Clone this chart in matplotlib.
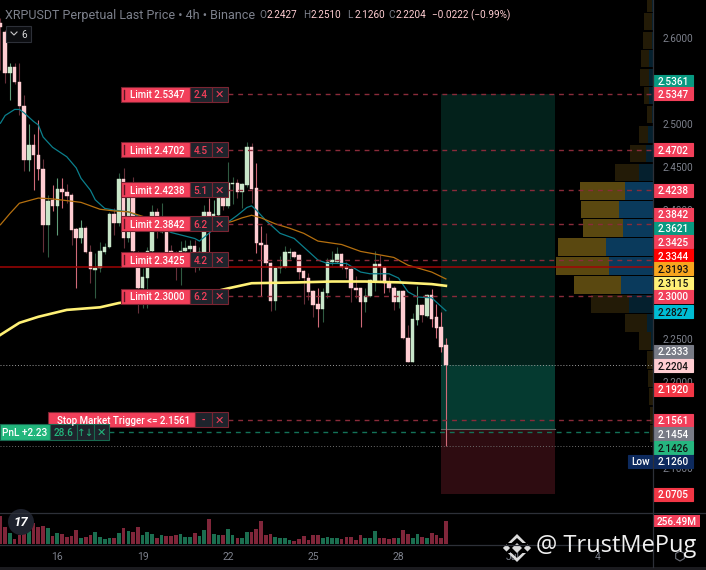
import matplotlib
matplotlib.use('Agg')
import matplotlib.pyplot as plt
import numpy as np
from matplotlib.patches import Rectangle, Circle, Polygon, RegularPolygon
from matplotlib.transforms import blended_transform_factory, IdentityTransform

plt.rcParams['font.family'] = ['Roboto', 'DejaVu Sans']

W, H = 706, 570

opens = [2.617, 2.607, 2.559, 2.566, 2.549, 2.521, 2.458, 2.476, 2.464, 2.448,
         2.383, 2.412, 2.405, 2.424, 2.421, 2.417, 2.378, 2.367, 2.379, 2.351,
         2.330, 2.333, 2.351, 2.357, 2.395, 2.385, 2.436, 2.367, 2.414, 2.344,
         2.309, 2.321, 2.353, 2.398, 2.374, 2.374, 2.353, 2.346, 2.351, 2.353,
         2.355, 2.358, 2.344, 2.344, 2.398, 2.392, 2.394, 2.414, 2.405, 2.430,
         2.431, 2.421, 2.429, 2.473, 2.426, 2.362, 2.360, 2.338, 2.294, 2.333,
         2.334, 2.350, 2.351, 2.348, 2.329, 2.321, 2.306, 2.291, 2.285, 2.304,
         2.340, 2.340, 2.349, 2.334, 2.331, 2.310, 2.309, 2.293, 2.300, 2.317,
         2.337, 2.334, 2.316, 2.310, 2.293, 2.306, 2.251, 2.224, 2.272, 2.290,
         2.277, 2.301, 2.276, 2.264, 2.2427]
highs = [2.623, 2.609, 2.571, 2.571, 2.571, 2.534, 2.500, 2.488, 2.505, 2.459,
         2.417, 2.429, 2.437, 2.437, 2.430, 2.420, 2.379, 2.388, 2.381, 2.359,
         2.350, 2.363, 2.362, 2.398, 2.403, 2.443, 2.449, 2.423, 2.439, 2.353,
         2.333, 2.357, 2.406, 2.402, 2.408, 2.383, 2.360, 2.353, 2.364, 2.365,
         2.365, 2.365, 2.357, 2.406, 2.414, 2.412, 2.426, 2.423, 2.456, 2.438,
         2.436, 2.432, 2.479, 2.478, 2.455, 2.381, 2.373, 2.340, 2.334, 2.347,
         2.358, 2.356, 2.353, 2.349, 2.330, 2.327, 2.307, 2.309, 2.310, 2.344,
         2.352, 2.357, 2.350, 2.340, 2.333, 2.323, 2.310, 2.309, 2.320, 2.353,
         2.348, 2.335, 2.322, 2.312, 2.307, 2.307, 2.266, 2.280, 2.312, 2.291,
         2.303, 2.308, 2.291, 2.281, 2.2510]
lows = [2.563, 2.548, 2.528, 2.546, 2.510, 2.446, 2.445, 2.423, 2.435, 2.351,
        2.345, 2.399, 2.371, 2.403, 2.408, 2.359, 2.310, 2.362, 2.350, 2.315,
        2.298, 2.328, 2.349, 2.356, 2.371, 2.381, 2.356, 2.363, 2.351, 2.280,
        2.286, 2.286, 2.336, 2.367, 2.373, 2.340, 2.340, 2.319, 2.313, 2.340,
        2.348, 2.328, 2.330, 2.340, 2.351, 2.383, 2.393, 2.400, 2.403, 2.407,
        2.414, 2.403, 2.427, 2.408, 2.350, 2.300, 2.336, 2.283, 2.284, 2.327,
        2.333, 2.343, 2.344, 2.320, 2.291, 2.295, 2.276, 2.264, 2.270, 2.298,
        2.336, 2.338, 2.331, 2.321, 2.293, 2.298, 2.264, 2.281, 2.299, 2.306,
        2.317, 2.304, 2.305, 2.284, 2.286, 2.250, 2.223, 2.223, 2.266, 2.270,
        2.276, 2.264, 2.251, 2.235, 2.1260]
closes = [2.613, 2.559, 2.566, 2.549, 2.521, 2.458, 2.476, 2.464, 2.448, 2.383,
          2.410, 2.405, 2.424, 2.421, 2.416, 2.377, 2.367, 2.379, 2.351, 2.331,
          2.333, 2.352, 2.357, 2.395, 2.385, 2.436, 2.367, 2.414, 2.353, 2.309,
          2.322, 2.353, 2.398, 2.383, 2.383, 2.351, 2.346, 2.337, 2.353, 2.356,
          2.358, 2.351, 2.351, 2.398, 2.392, 2.396, 2.414, 2.405, 2.431, 2.431,
          2.421, 2.430, 2.473, 2.424, 2.362, 2.359, 2.338, 2.294, 2.333, 2.334,
          2.351, 2.351, 2.346, 2.328, 2.321, 2.305, 2.290, 2.285, 2.305, 2.340,
          2.342, 2.349, 2.334, 2.331, 2.309, 2.307, 2.293, 2.300, 2.319, 2.337,
          2.334, 2.315, 2.310, 2.293, 2.306, 2.251, 2.224, 2.273, 2.290, 2.278,
          2.301, 2.274, 2.263, 2.241, 2.2204]
volumes = [312, 190, 123, 56, 100, 123, 145, 234, 190, 201,
           178, 89, 123, 112, 78, 89, 156, 67, 78, 100,
           134, 78, 56, 67, 67, 123, 178, 145, 134, 190,
           100, 134, 112, 67, 100, 89, 89, 100, 112, 78,
           78, 123, 89, 156, 279, 112, 100, 100, 167, 100,
           67, 67, 134, 134, 167, 256, 100, 112, 78, 67,
           67, 45, 33, 56, 89, 45, 100, 100, 67, 78,
           67, 67, 56, 78, 78, 45, 100, 67, 67, 145,
           67, 67, 56, 67, 67, 156, 112, 67, 112, 78,
           67, 123, 100, 67, 256.49]
bright_wicks = [2, 6, 7, 8, 11, 12, 13, 16, 17, 44, 45, 54, 55, 67, 76, 81, 88, 91, 92, 93, 94]

teal_idx = [0, 1, 3, 4, 5, 7, 8, 9, 11, 14, 16, 17, 19, 20, 22, 24, 27, 30, 36, 41, 42, 44, 47, 48,
            50, 52, 53, 54, 56, 59, 62, 64, 67, 69, 73, 76, 78, 82, 84, 86, 88, 91, 94]
teal_val = [2.501, 2.510, 2.517, 2.517, 2.513, 2.503, 2.499, 2.485, 2.473, 2.462, 2.449, 2.437,
            2.423, 2.412, 2.402, 2.400, 2.398, 2.391, 2.374, 2.367, 2.364, 2.373, 2.388, 2.386,
            2.394, 2.403, 2.405, 2.400, 2.388, 2.373, 2.367, 2.357, 2.342, 2.338, 2.338, 2.328,
            2.326, 2.326, 2.321, 2.305, 2.299, 2.298, 2.283]
orange_idx = [0, 2, 4, 8, 11, 17, 21, 24, 27, 35, 39, 42, 45, 49, 51, 53, 55, 58, 61, 64, 67, 72,
              76, 79, 83, 86, 91, 94]
orange_val = [2.383, 2.396, 2.408, 2.414, 2.413, 2.409, 2.401, 2.399, 2.398, 2.384, 2.379, 2.377,
              2.381, 2.387, 2.391, 2.394, 2.391, 2.384, 2.379, 2.373, 2.364, 2.360, 2.352, 2.349,
              2.345, 2.336, 2.328, 2.320]
yellow_idx = [0, 4, 8, 14, 21, 25, 35, 45, 48, 53, 63, 70, 77, 84, 91, 94]
yellow_val = [2.255, 2.269, 2.276, 2.284, 2.287, 2.292, 2.299, 2.305, 2.309, 2.315, 2.316, 2.317,
              2.317, 2.316, 2.314, 2.312]

# volume profile rows, top to bottom
vp_price = [2.640, 2.619, 2.597, 2.576, 2.554, 2.533, 2.511, 2.488, 2.466, 2.444, 2.422, 2.401,
            2.379, 2.357, 2.335, 2.313, 2.291, 2.269, 2.248, 2.226, 2.204, 2.183, 2.161, 2.140]
vp_total = [6, 9, 10, 12, 13, 9, 6, 14, 23, 38, 73, 72, 70, 95, 97, 79, 62, 28, 14, 6, 5, 4, 3, 3]
vp_sell = [1, 1, 1, 4, 4, 4, 1, 5, 7, 14, 28, 34, 30, 47, 44, 32, 24, 6, 2, 0.5, 0.5, 0, 0, 0]
vp_area = [10, 11, 12, 13, 14, 15]

order_prices = [2.5347, 2.4702, 2.4238, 2.3842, 2.3425, 2.3000]
order_qty = ['2.4', '4.5', '5.1', '6.2', '4.2', '6.2']
stop_price = 2.1561
entry_price = 2.1454
pos_price = 2.1426
last_price = 2.2204
low_price = 2.1260
red_line = 2.3344
target_price = 2.5347
sl_price = 2.0705

day_ticks = [12, 30, 48, 66, 84, 108, 126]
day_labels = ['16', '19', '22', '25', '28', 'Jul', '4']
# the other round prices sit fully behind the tags
price_ticks = [2.6, 2.5, 2.45, 2.4, 2.25, 2.2, 2.1]

# axis tags: text, where the tag sits after stacking, fill, text colour
RED = '#f23f5a'
tag_text = ['2.5361', '2.5347', '2.4702', '2.4238', '2.3842', '2.3621', '2.3425', '2.3344',
            '2.3193', '2.3115', '2.3000', '2.2827', '2.2333', '2.2204', '2.1920', '2.1561',
            '2.1454', '2.1426', '2.1260', '2.0705']
tag_pos = [2.550, 2.535, 2.470, 2.423, 2.395, 2.379, 2.363, 2.347, 2.332, 2.315, 2.300, 2.282,
           2.236, 2.219, 2.192, 2.156, 2.140, 2.124, 2.108, 2.070]
tag_face = ['#089981', RED, RED, RED, RED, '#089981', RED, '#ff0000', '#f7a51e', '#fff176', RED,
            '#00bcd4', '#787b86', '#ffcdd2', '#f23645', RED, '#787b86', '#26b67f', '#0d2a5e',
            '#f23645']
tag_color = ['white', 'white', 'white', 'white', 'white', 'white', 'white', 'white', '#111111',
             '#111111', 'white', '#111111', 'white', '#111111', 'white', 'white', 'white',
             '#111111', 'white', 'white']

n = len(opens)
idx = np.arange(n)
o, h, l, c = map(np.array, (opens, highs, lows, closes))
up = c >= o

fig = plt.figure(figsize=(W / 100, H / 100), dpi=100, facecolor='black')


def axes_px(x0, y0, x1, y1):
    return fig.add_axes([x0 / W, (H - y1) / H, (x1 - x0) / W, (y1 - y0) / H])


XLIM = (-0.09, 137.7)
YLIM = (2.0491, 2.6442)
PX = (YLIM[1] - YLIM[0]) / 512

# volume profile sits under the main pane
ax_vp = axes_px(556, 0, 653, 512)
ax_vp.set_zorder(1)
ax_vp.set_facecolor('black')
ax_vp.set_xlim(97, 0)
ax_vp.set_ylim(*YLIM)
ax_vp.axis('off')
for i, price in enumerate(vp_price):
    bright = i in vp_area
    ax_vp.barh(price, vp_total[i], height=17.4 * PX, color='#5a4810' if bright else '#231b07')
    ax_vp.barh(price, vp_sell[i], height=17.4 * PX, color='#0a3a5c' if bright else '#05202e')

ax = axes_px(0, 0, 653, 512)
ax.set_zorder(3)
ax.patch.set_alpha(0)
ax.set_xlim(*XLIM)
ax.set_ylim(*YLIM)
ax.set_xticks([])
ax.yaxis.tick_right()
ax.set_yticks(price_ticks)
ax.set_yticklabels(['%.4f' % p for p in price_ticks])
ax.tick_params(axis='y', length=0, pad=7, labelsize=7.2, labelcolor='#7d818c')
for s in ax.spines.values():
    s.set_visible(False)

px_y = blended_transform_factory(IdentityTransform(), ax.transData)

# position tool
x_a, x_b = 441, 555
for y0, y1, col in [(last_price, target_price, '#03211b'), (entry_price, last_price, '#053a30'),
                    (sl_price, entry_price, '#2e0c11')]:
    ax.add_patch(Rectangle((x_a, y0), x_b - x_a, y1 - y0, transform=px_y, color=col, lw=0, zorder=1))
ax.plot([x_a, x_b], [entry_price, entry_price], transform=px_y, color='#5d6b66', lw=0.8, zorder=1.5)

# candles
wick_col = []
for i in idx:
    if up[i]:
        wick_col.append('#5f9c78' if i in bright_wicks else '#2f5a41')
    else:
        wick_col.append('#cf6a78' if i in bright_wicks else '#66303a')
ax.vlines(idx, l, h, colors=wick_col, lw=0.8, zorder=2)
ax.bar(idx, np.abs(c - o), bottom=np.minimum(o, c), width=0.74,
       color=np.where(up, '#c8e6c9', '#ffcdd2'), edgecolor=np.where(up, '#c8e6c9', '#ffcdd2'),
       lw=0.3, zorder=3)

# moving averages
ax.plot(teal_idx, teal_val, color='#0b7f8c', lw=0.9, zorder=4)
ax.plot(orange_idx, orange_val, color='#b5700f', lw=0.9, zorder=4)
ax.plot(yellow_idx, yellow_val, color='#fff176', lw=1.9, zorder=4)

# price lines
ax.axhline(red_line, color='#a00505', lw=1.1, zorder=4.5)
ax.axhline(last_price, color='#9a9a9a', lw=0.7, ls=(0, (1, 2)), zorder=4.5)
ax.axhline(low_price, color='#6d6d6d', lw=0.7, ls=(0, (1, 2)), zorder=4.5)
for p in order_prices + [stop_price]:
    ax.plot([228, 653], [p, p], transform=px_y, color='#8a2b3a', lw=1, ls=(0, (3.5, 3.5)), zorder=4.6)
ax.plot([109, 653], [pos_price, pos_price], transform=px_y, color='#137258', lw=1,
        ls=(0, (3.5, 3.5)), zorder=4.6)


def box(x0, x1, price, face, edge=None, height=15):
    ax.add_patch(Rectangle((x0, price - height * PX / 2), x1 - x0, height * PX, transform=px_y,
                           facecolor=face, edgecolor=edge or face, lw=0.8, zorder=6, clip_on=False))


def label(x, price, text, color='white', size=7.2, weight='medium', ha='center'):
    ax.text(x, price, text, transform=px_y, color=color, fontsize=size, fontweight=weight,
            ha=ha, va='center_baseline', zorder=7, clip_on=False)


DARK = '#1e242c'
EDGE = '#7a2432'
for p, q in zip(order_prices, order_qty):
    box(120.5, 189.5, p, RED, EDGE)
    box(189.5, 211.5, p, DARK, EDGE)
    box(211.5, 227.5, p, DARK, EDGE)
    ax.plot([124.3, 124.3], [p - 4.5 * PX, p + 4.5 * PX], transform=px_y, color='#5a1622', lw=1, zorder=7)
    label(157.5, p, 'Limit %.4f' % p, size=6.9)
    label(200.5, p, q, color=RED)
    label(219.5, p, '\u2715', color=RED, size=8, weight='normal')

box(47.5, 195, stop_price, RED, EDGE)
box(195, 211.5, stop_price, DARK, EDGE)
box(211.5, 227.5, stop_price, DARK, EDGE)
label(123.5, stop_price, 'Stop Market Trigger <= %.4f' % stop_price, size=7)
label(203.5, stop_price, '-', color=RED)
label(219.5, stop_price, '\u2715', color=RED, size=8, weight='normal')

GRN = '#17694f'
box(0, 49.5, pos_price, '#22b67c', GRN, height=16)
box(50, 77, pos_price, DARK, GRN, height=16)
box(77, 93.5, pos_price, DARK, GRN, height=16)
box(93.5, 109, pos_price, DARK, GRN, height=16)
label(24.5, pos_price, 'PnL +2.23')
label(63.5, pos_price, '28.6', color='#22b67c')
label(85.2, pos_price, '\u2191\u2193', color='#22b67c', size=7.5, weight='normal')
label(101.2, pos_price, '\u2715', color='#22b67c', size=8, weight='normal')

# right hand tags
for t, p, f, tc in zip(tag_text, tag_pos, tag_face, tag_color):
    box(653, 693, p, f, height=13)
    label(673, p, t, color=tc)
box(628, 652, tag_pos[18], '#0d2a5e', height=13)
label(640, tag_pos[18], 'Low')

# volume pane
ax_vol = axes_px(0, 512, 653, 544)
ax_vol.set_zorder(2)
ax_vol.set_facecolor('black')
ax_vol.set_xlim(*XLIM)
ax_vol.set_ylim(0, 357)
ax_vol.bar(idx, volumes, width=0.78, color=np.where(up, '#1b6e50', '#80263a'))
ax_vol.set_yticks([])
ax_vol.set_xticks(day_ticks)
ax_vol.set_xticklabels(day_labels)
ax_vol.tick_params(axis='x', length=0, pad=6, labelsize=7.5, labelcolor='#7d818c')
for s in ax_vol.spines.values():
    s.set_visible(False)

vol_tr = blended_transform_factory(IdentityTransform(), ax_vol.transData)
ax_vol.add_patch(Rectangle((653, volumes[-1] - 70), 47, 140, transform=vol_tr, color=RED, lw=0,
                           clip_on=False, zorder=5))
ax_vol.text(676.5, volumes[-1], '256.49M', transform=vol_tr, color='white', fontsize=7.2,
            fontweight='medium', ha='center', va='center_baseline', clip_on=False, zorder=6)

# interface layer in pixel coordinates
ui = axes_px(0, 0, W, H)
ui.set_zorder(5)
ui.patch.set_alpha(0)
ui.set_xlim(0, W)
ui.set_ylim(H, 0)
ui.axis('off')

ui.add_patch(Rectangle((0, 567), W, 3, color='#1b1b1f', lw=0))
ui.plot([0, W], [512.5, 512.5], color='#2d3038', lw=0.9)
ui.plot([0, 653], [544.5, 544.5], color='#2d3038', lw=0.9)
ui.plot([653, 653], [0, 567], color='#2d3038', lw=0.9)

ui.text(5, 13.5, 'XRPUSDT Perpetual Last Price \u2022 4h \u2022 Binance', color='#7d818c',
        fontsize=9, va='center_baseline')
ohlc_x = [259.5, 303, 347, 388]
ohlc_key = ['O', 'H', 'L', 'C']
ohlc_val = ['2.2427', '2.2510', '2.1260', '2.2204']
for x, k, v in zip(ohlc_x, ohlc_key, ohlc_val):
    ui.text(x, 14, k, color='#7d818c', fontsize=7.2, va='center_baseline')
    ui.text(x + 7.5, 14, v, color='#ffcdd2', fontsize=7.2, va='center_baseline')
ui.text(432, 14, '\u22120.0222 (\u22120.99%)', color='#ffcdd2', fontsize=7.2, va='center_baseline')

ui.add_patch(Rectangle((5.5, 25.5), 25, 16, facecolor='#0c0d10', edgecolor='#2d3038', lw=0.8))
ui.plot([11, 14, 17], [32, 35, 32], color='#c8c8c8', lw=0.8)
ui.text(24, 33.5, '6', color='#d8d8d8', fontsize=7.2, ha='center', va='center_baseline')

# chart logo
ui.add_patch(Circle((21, 522), 13, color='#1e222d', lw=0))
ui.text(21, 522, '17', color='white', fontsize=9.5, fontweight='bold', style='italic', ha='center', va='center')

# settings gear
ui.add_patch(RegularPolygon((680, 556), 6, radius=5, fill=False, edgecolor='#6d7079', lw=0.8))

# watermark
wm = '#dcdcdc'
for dx, dy, r in [(0, 0, 5), (-10.5, 0, 3.6), (10.5, 0, 3.6)]:
    ui.add_patch(RegularPolygon((517 + dx, 548 + dy), 4, radius=r, color=wm, lw=0))
ui.add_patch(Polygon([(517, 534), (526, 543), (522.5, 543), (517, 538), (511.5, 543), (508, 543)],
                     color=wm, lw=0))
ui.add_patch(Polygon([(517, 562), (526, 553), (522.5, 553), (517, 558), (511.5, 553), (508, 553)],
                     color=wm, lw=0))
ui.text(536.5, 543.5, '@ TrustMePug', color='#f0f0f0', fontsize=17, family='Open Sans',
        va='center_baseline')

fig.savefig('out.png', dpi=100, facecolor='black')
